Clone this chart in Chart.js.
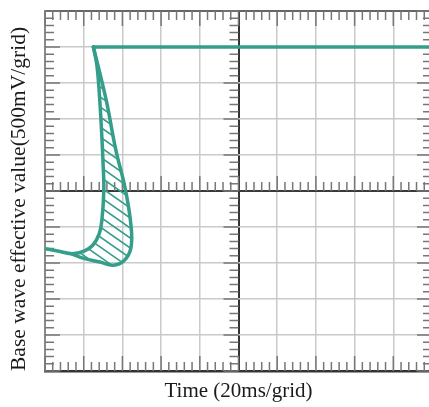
<!DOCTYPE html>
<html>
<head>
<meta charset="utf-8">
<script src="https://cdn.jsdelivr.net/npm/chart.js@4.4.1/dist/chart.umd.min.js"></script>
<style>
  html, body { margin: 0; padding: 0; background: #fff; }
  #wrap { width: 429px; height: 407px; overflow: hidden; }
  #box { position: relative; width: 445px; height: 407px; }
</style>
</head>
<body>
<div id="wrap"><div id="box"><canvas id="scope"></canvas></div></div>
<script>
/* 基波実効値の波形: オシロ風グリッド(20ms/div, 500mV/div)+ハッチ付きの谷 */

// readings in grid divisions, 0 = centre line of the screen
const flatT = [1.25, 10];
const flatV = [4, 4];
const innerT = [0, 0.39, 0.7, 1.01, 1.24, 1.4, 1.47, 1.52, 1.5, 1.46, 1.41, 1.34, 1.25];
const innerV = [-1.6, -1.68, -1.74, -1.67, -1.5, -1.19, -0.81, 0.03, 0.78, 1.69, 2.61, 3.5, 4];
const outerT = [0.7, 1.03, 1.42, 1.76, 2.04, 2.22, 2.22, 2.07, 1.83, 1.58, 1.25];
const outerV = [-1.75, -1.88, -1.97, -2.06, -1.94, -1.58, -0.94, 0.08, 1.14, 2.53, 4];
const HATCH_FROM = 2; // inner branch index where the shaded lobe begins

const TEAL = "#359e8b";
const serif = "'Liberation Serif', 'DejaVu Serif', serif";

const pts = (xs, ys) => xs.map((x, i) => ({ x, y: ys[i] }));

// minor/major ticks on the frame and on the centre cross
const scopeTicks = {
  id: "scopeTicks",
  beforeDatasetsDraw(chart) {
    const { ctx, chartArea: a, scales: { x, y } } = chart;
    const len = (v) => (Math.abs(v - Math.round(v)) < 1e-6 ? 15 : 9);
    const cx = x.getPixelForValue(5);
    const cy = y.getPixelForValue(0);
    ctx.save();
    ctx.strokeStyle = "#777";
    ctx.lineWidth = 1.5;
    ctx.beginPath();
    for (let i = 0; i <= 50; i++) {
      const v = i / 5;
      const px = x.getPixelForValue(v);
      const l = len(v);
      ctx.moveTo(px, a.top); ctx.lineTo(px, a.top + l);
      ctx.moveTo(px, a.bottom); ctx.lineTo(px, a.bottom - l);
      ctx.moveTo(px, cy); ctx.lineTo(px, cy - l);
    }
    for (let i = -25; i <= 25; i++) {
      const v = i / 5;
      const py = y.getPixelForValue(v);
      const l = len(v);
      ctx.moveTo(a.left, py); ctx.lineTo(a.left + l, py);
      ctx.moveTo(a.right, py); ctx.lineTo(a.right - l, py);
      ctx.moveTo(cx, py); ctx.lineTo(cx - l, py);
    }
    ctx.stroke();
    ctx.restore();
  },
};

// diagonal hatching between the two branches of the dip
const hatch = {
  id: "hatch",
  afterDatasetsDraw(chart) {
    const ctx = chart.ctx;
    const inner = chart.getDatasetMeta(1).data.slice(HATCH_FROM);
    const outer = chart.getDatasetMeta(2).data.slice().reverse();
    ctx.save();
    ctx.beginPath();
    ctx.moveTo(inner[0].x, inner[0].y);
    for (let i = 1; i < inner.length; i++) {
      const p = inner[i - 1], q = inner[i];
      ctx.bezierCurveTo(p.cp2x, p.cp2y, q.cp1x, q.cp1y, q.x, q.y);
    }
    for (let i = 1; i < outer.length; i++) {
      const p = outer[i - 1], q = outer[i];
      ctx.bezierCurveTo(p.cp1x, p.cp1y, q.cp2x, q.cp2y, q.x, q.y);
    }
    ctx.closePath();
    ctx.clip();
    const all = inner.concat(outer);
    const x0 = Math.min(...all.map((p) => p.x)) - 5;
    const x1 = Math.max(...all.map((p) => p.x)) + 5;
    const y0 = Math.min(...all.map((p) => p.y)) - 5;
    const y1 = Math.max(...all.map((p) => p.y)) + 5;
    const slope = 0.7;
    ctx.strokeStyle = TEAL;
    ctx.lineWidth = 1.5;
    ctx.beginPath();
    for (let c = y0 - slope * (x1 - x0); c < y1; c += 10) {
      ctx.moveTo(x0, c);
      ctx.lineTo(x1, c + slope * (x1 - x0));
    }
    ctx.stroke();
    ctx.restore();
  },
};

const lineDs = (data, tension) => ({
  data,
  showLine: true,
  borderColor: TEAL,
  borderWidth: 3.5,
  pointRadius: 0,
  tension,
  borderCapStyle: "round",
  borderJoinStyle: "round",
});

new Chart(document.getElementById("scope"), {
  type: "scatter",
  data: {
    datasets: [
      lineDs(pts(flatT, flatV), 0),
      lineDs(pts(innerT, innerV), 0.4),
      lineDs(pts(outerT, outerV), 0.4),
    ],
  },
  options: {
    responsive: true,
    maintainAspectRatio: false,
    animation: false,
    layout: { padding: { top: 11, right: 13, left: 0, bottom: 0 } },
    plugins: { legend: { display: false }, tooltip: { enabled: false } },
    scales: {
      x: {
        type: "linear",
        min: 0,
        max: 10,
        afterFit: (s) => { s.height = 36; },
        ticks: { display: false, stepSize: 1 },
        grid: {
          drawTicks: false,
          color: (c) => (c.tick.value === 5 ? "#333" : c.tick.value === 0 ? "#8a8a8a" : "#cacaca"),
          lineWidth: (c) => (c.tick.value === 5 ? 2 : 1.5),
        },
        border: { color: "#333", width: 2.5 },
        title: {
          display: true,
          text: "Time (20ms/grid)",
          color: "#1a1a1a",
          font: { family: serif, size: 21 },
          padding: { top: 0, bottom: 3 },
        },
      },
      y: {
        type: "linear",
        min: -5,
        max: 5,
        afterFit: (s) => { s.width = 45; },
        ticks: { display: false, stepSize: 1 },
        grid: {
          drawTicks: false,
          color: (c) => (c.tick.value === 0 ? "#3a3a3a" : c.tick.value === 5 ? "#666" : "#cacaca"),
          lineWidth: (c) => (c.tick.value === 0 || c.tick.value === 5 ? 2 : 1.5),
        },
        border: { color: "#8a8a8a", width: 2 },
        title: {
          display: true,
          align: "start",
          text: "Base wave effective value(500mV/grid)",
          color: "#1a1a1a",
          font: { family: serif, size: 21.5 },
          padding: { top: 6, bottom: 0 },
        },
      },
    },
  },
  plugins: [scopeTicks, hatch],
});
</script>
</body>
</html>
